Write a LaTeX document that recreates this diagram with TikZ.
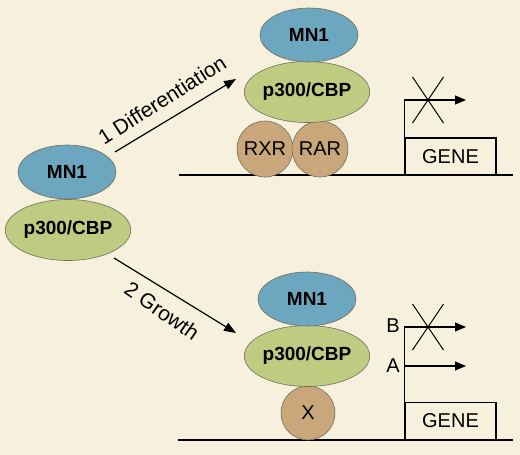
\documentclass[tikz,border=0pt]{standalone}
\usepackage{fontspec}
\setmainfont{Liberation Sans}
\usetikzlibrary{shapes.geometric,shapes.misc,arrows.meta}
\definecolor{bg}{HTML}{F6F0DC}
\definecolor{mnblue}{HTML}{6DA7BF}
\definecolor{pgreen}{HTML}{BFCB80}
\definecolor{tanc}{HTML}{C9A77A}
\definecolor{edgec}{HTML}{6E6E60}
\begin{document}
\begin{tikzpicture}[x=1pt,y=-1pt,
  mn/.style={ellipse,draw=edgec,fill=mnblue,line width=0.6pt,minimum width=98pt,minimum height=54pt,inner sep=0pt,font=\fontsize{19}{21}\selectfont\bfseries},
  pc/.style={ellipse,draw=edgec,fill=pgreen,line width=0.6pt,minimum width=122pt,minimum height=61pt,inner sep=0pt,font=\fontsize{19}{21}\selectfont\bfseries},
  rc/.style={circle,draw=edgec,fill=tanc,line width=0.6pt,minimum size=56pt,inner sep=0pt,font=\fontsize{20}{22}\selectfont},
  genebox/.style={rectangle,draw=black,line width=1.1pt,minimum width=91pt,minimum height=37pt,inner sep=0pt,font=\fontsize{20}{22}\selectfont},
  flow/.style={line width=1.2pt,-{Triangle[length=12pt,width=9pt]}},
  prom/.style={line width=1.1pt,-{Triangle[length=11pt,width=9pt]}},
  dna/.style={line width=1.2pt},
  xmark/.style={cross out,draw=black,line width=1pt,minimum width=30pt,minimum height=45pt,inner sep=0pt},
  lbl/.style={font=\fontsize{21}{23}\selectfont,inner sep=0pt},
  ab/.style={font=\fontsize{20}{22}\selectfont,inner sep=0pt}]
\fill[bg] (0,0) rectangle (520,455);
\useasboundingbox (0,0) rectangle (520,455);
% left complex
\node[mn] (lmn) at (67,172) {MN1};
\node[pc] (lp) at (68,230) {p300/CBP};
% arrows
\coordinate (a1s) at (115,152);
\coordinate (a1e) at (236,79);
\coordinate (a2s) at (114,258);
\coordinate (a2e) at (236,333);
\draw[flow] (a1s) -- (a1e);
\draw[flow] (a2s) -- (a2e);
\node[lbl,rotate=32.5] (l1) at (162,100) {1 Differentiation};
\node[lbl,rotate=-35] (l2) at (162,311) {2 Growth};
% top complex
\draw[dna] (179,175) coordinate (b1s) -- (513,175) coordinate (b1e);
\node[rc] (rxr) at (265,149) {RXR};
\node[rc] (rar) at (320,149) {RAR};
\node[pc] (tp) at (307,92) {p300/CBP};
\node[mn] (tmn) at (309,35) {MN1};
\node[genebox] (g1) at (450.5,156.5) {GENE};
\coordinate (t1) at (466,100);
\draw[prom] (g1.south west) |- (t1);
\node[xmark] (x1) at (428,100) {};
% bottom complex
\draw[dna] (178,440) coordinate (b2s) -- (513,440) coordinate (b2e);
\node[rc,minimum size=54pt] (xc) at (308,413) {X};
\node[pc] (bp) at (307,356) {p300/CBP};
\node[mn] (bmn) at (307,299) {MN1};
\node[genebox] (g2) at (450.5,421) {GENE};
\coordinate (tb) at (466,327);
\coordinate (ta) at (466,366);
\draw[prom] (g2.south west) |- (tb);
\draw[prom] (g2.south west |- ta) -- (ta);
\node[xmark] (x2) at (428,327) {};
\node[ab] (lb) at (393,326) {B};
\node[ab] (la) at (393,366) {A};
\end{tikzpicture}
\end{document}
